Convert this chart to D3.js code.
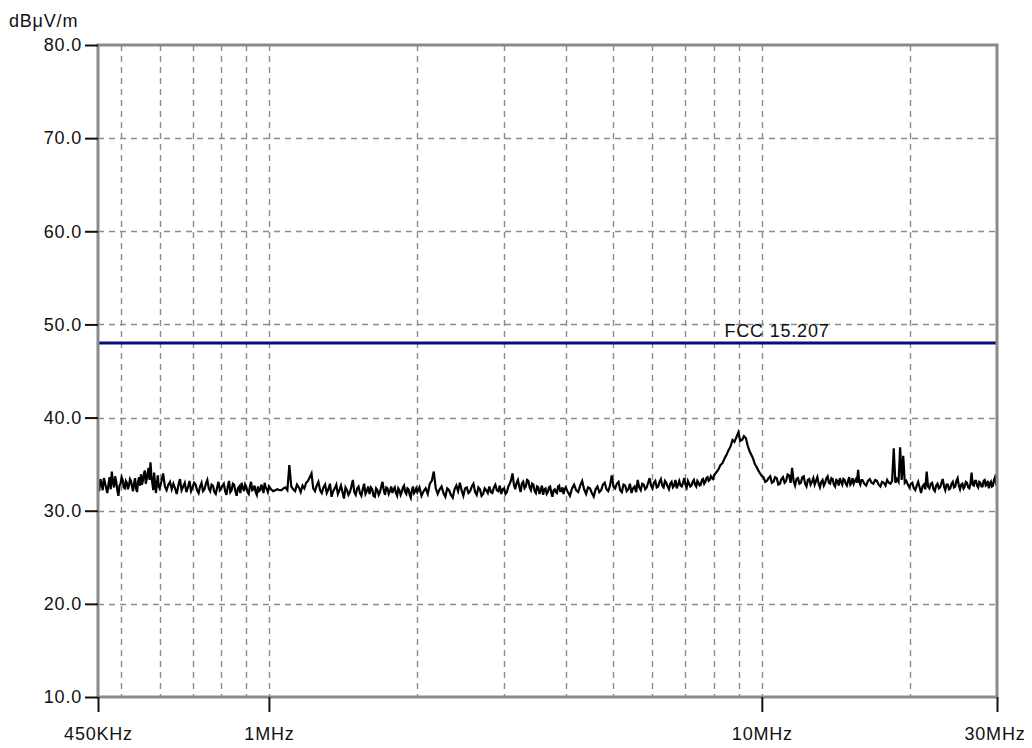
<!DOCTYPE html>
<html>
<head>
<meta charset="utf-8">
<script src="https://cdn.jsdelivr.net/npm/d3@7"></script>
<style>
  html, body { margin: 0; padding: 0; background: #fff; overflow: hidden; }
  svg text { font-family: "Liberation Sans", Arial, sans-serif; font-size: 18px; fill: #111; letter-spacing: 0.8px; }
</style>
</head>
<body>
<div id="chart"></div>
<script>
// axis values
const yTicks = [10, 20, 30, 40, 50, 60, 70, 80];
const yGrid = [20, 30, 40, 50, 60, 70];
const xTicksMHz = [0.45, 1, 10, 30];
const xTickLabels = ['450KHz', '1MHz', '10MHz', '30MHz'];
const xGridMHz = [0.5, 0.6, 0.7, 0.8, 0.9, 1, 2, 3, 4, 5, 6, 7, 8, 9, 10, 20];
const yUnit = 'dBμV/m';

// limit line
const limitName = 'FCC 15.207';
const limitDb = 48.0;
const limitLabelMHz = 8.4;

// measured sweep, split in segments (start freq, step, readings in dBμV/m)
const sweepA = { startMHz: 0.45, stepMHz: 0.0025, dB: [
  32.8, 32.1, 33.4, 32.9, 32.2, 33.5, 33.0, 32.4, 31.9, 32.8,
  33.6, 32.3, 34.2, 33.0, 32.5, 33.7, 33.1, 32.2, 31.6, 32.7,
  32.9, 33.6, 33.3, 32.5, 32.4, 33.2, 33.0, 32.3, 32.7, 33.4,
  33.2, 32.6, 32.1, 32.9, 33.5, 32.4, 32.0, 33.1, 33.6, 32.7,
  33.9, 32.8, 33.2, 34.0, 34.3, 32.9, 33.4, 34.1, 34.6, 33.3,
  35.2, 33.8, 33.0, 32.2, 34.1, 32.8, 31.9, 33.0, 33.8, 32.6] };
const sweepB = { startMHz: 0.60, stepMHz: 0.005, dB: [
  32.4, 33.1, 34.0, 32.6, 32.2, 32.8, 33.1, 32.3, 32.9, 32.4,
  31.8, 32.7, 33.4, 32.2, 32.6, 33.0, 32.0, 32.5, 33.2, 32.1,
  32.5, 33.0, 32.8, 32.2, 31.9, 32.6, 33.0, 32.1, 32.3, 32.9,
  33.3, 32.4, 32.1, 32.8, 32.7, 32.0, 31.8, 32.5, 33.1, 32.2,
  32.4, 32.7, 32.9, 32.1, 31.7, 32.6, 33.2, 32.0, 32.2, 32.9,
  32.8, 32.1, 31.6, 32.4, 32.6, 31.9, 33.0, 32.5, 32.1, 32.8,
  32.5, 32.0, 31.8, 32.6, 33.1, 32.2, 32.3, 32.7, 32.0, 31.7,
  32.6, 32.1, 32.2, 32.8, 32.4, 31.9, 33.0, 32.5, 32.3, 32.0] };
const sweepC = { startMHz: 1.00, stepMHz: 0.01, dB: [
  32.6, 32.3, 32.1, 32.2, 32.3, 32.2, 32.2, 32.4, 32.5, 32.2,
  34.9, 32.6, 32.3, 32.1, 32.8, 32.5, 32.0, 32.7, 32.4, 33.0,
  33.2, 33.6, 34.0, 32.4, 32.1, 32.7, 33.1, 32.2, 31.9, 32.5,
  32.8, 31.9, 32.3, 32.9, 31.5, 32.1, 32.4, 32.8, 31.8, 32.2,
  32.7, 32.0, 31.3, 32.5, 32.2, 31.7, 32.0, 32.6, 33.3, 32.0,
  31.7, 32.4, 32.6, 31.9, 31.6, 32.3, 32.9, 31.8, 32.1, 32.6,
  31.8, 32.5, 32.3, 31.6, 31.5, 32.4, 32.2, 31.7, 32.0, 32.6,
  33.1, 32.2, 31.7, 32.5, 32.4, 31.8, 32.1, 32.6, 31.9, 32.3,
  32.5, 31.9, 31.6, 32.4, 32.2, 31.7, 32.0, 32.5, 32.7, 32.0,
  31.8, 32.4, 32.3, 31.7, 31.4, 32.2, 32.6, 31.9, 32.1, 32.4] };
const sweepD = { startMHz: 2.00, stepMHz: 0.02, dB: [
  32.0, 32.5, 31.6, 32.1, 32.4, 31.8, 32.9, 33.2, 34.2, 32.4,
  31.8, 32.3, 32.6, 31.9, 31.5, 32.4, 32.2, 31.7, 31.4, 32.3,
  32.7, 32.1, 33.0, 32.2, 31.6, 32.4, 32.5, 31.9, 32.1, 32.6,
  32.9, 32.0, 31.7, 32.5, 32.3, 31.6, 31.8, 32.4, 32.2, 31.9,
  32.6, 32.0, 31.9, 32.5, 32.8, 32.2, 32.1, 32.7, 31.8, 32.3,
  32.4, 31.8, 32.0, 32.6, 32.9, 33.3, 34.0, 32.8, 32.3, 33.0,
  33.3, 32.6, 32.0, 32.9, 33.1, 32.4, 32.6, 33.3, 33.2, 32.5,
  32.2, 32.9, 32.8, 32.1, 31.9, 32.6, 32.5, 31.8, 32.2, 32.7,
  31.7, 32.3, 32.4, 31.8, 32.0, 32.5, 32.6, 31.9, 31.5, 32.2,
  32.3, 32.0, 31.9, 32.6, 32.7, 32.1, 32.1, 32.5, 31.8, 32.3] };
const sweepE = { startMHz: 4.00, stepMHz: 0.04, dB: [
  32.5, 32.0, 31.6, 32.4, 32.8, 32.2, 32.0, 32.7, 33.2, 32.3,
  31.8, 32.5, 32.4, 31.9, 31.5, 32.3, 32.6, 32.0, 32.2, 32.8,
  33.0, 32.3, 32.1, 32.7, 33.8, 32.6, 32.4, 32.9, 33.1, 32.2,
  32.0, 32.8, 32.7, 32.1, 32.3, 32.9, 31.9, 32.4, 32.6, 32.0,
  33.3, 32.5, 32.2, 32.9, 32.8, 32.3, 32.5, 33.0, 33.5, 32.7,
  32.4, 33.0, 33.2, 32.5, 32.6, 33.1, 33.4, 32.7, 32.5, 33.2,
  33.0, 32.6, 32.3, 32.9, 33.1, 32.5, 32.7, 33.3, 32.4, 32.8,
  33.2, 32.7, 32.6, 33.0, 33.5, 32.8, 32.5, 33.2, 32.9, 32.6,
  32.7, 33.1, 33.3, 32.8, 32.6, 33.2, 33.0, 32.7, 32.8, 33.3,
  33.4, 32.9, 33.1, 33.5, 33.6, 33.2, 33.3, 33.7, 33.5, 33.4] };
const sweepF = { startMHz: 8.00, stepMHz: 0.08, dB: [
  33.8, 34.1, 34.4, 34.9, 35.1, 35.6, 36.0, 36.5, 36.9, 37.6,
  37.4, 37.9, 38.4, 37.5, 37.6, 38.0, 37.8, 37.0, 36.4, 36.0,
  35.6, 35.0, 34.7, 34.3, 34.0, 33.7, 33.6, 33.1, 33.2, 33.5,
  33.7, 33.0, 33.1, 33.6, 33.5, 32.8, 32.9, 33.4, 33.6, 33.0,
  33.2, 33.9, 33.8, 33.0, 34.6, 33.2, 32.7, 33.4, 33.5, 32.9,
  33.0, 33.6, 33.7, 32.9, 32.6, 33.3, 33.4, 32.8, 33.1, 33.5,
  32.8, 33.2, 33.6, 32.9, 32.5, 33.1, 33.3, 32.7, 33.0, 33.5,
  33.7, 33.0, 32.9, 33.5, 33.4, 32.8, 32.6, 33.3, 33.2, 32.7,
  33.5, 33.1, 32.8, 33.4, 33.3, 32.9, 32.7, 33.2, 33.6, 32.8,
  33.0, 33.5, 32.9, 33.2, 33.4, 33.0, 34.4, 33.1, 32.8, 33.3] };
const sweepG = { startMHz: 16.00, stepMHz: 0.14, dB: [
  33.3, 32.9, 32.7, 33.2, 33.4, 33.0, 32.9, 33.3, 33.2, 32.8,
  32.6, 33.1, 33.0, 32.7, 33.3, 33.0, 32.9, 33.2, 36.7, 33.0,
  33.4, 33.1, 36.8, 33.3, 35.9, 33.0, 33.2, 32.8, 32.5, 32.9,
  33.0, 32.4, 32.2, 32.7, 33.1, 32.5, 31.9, 32.6, 32.8, 32.3,
  34.2, 32.6, 32.4, 32.9, 33.0, 32.3, 32.1, 32.7, 32.9, 32.4,
  32.5, 33.0, 33.4, 32.6, 32.2, 32.8, 32.8, 32.3, 32.4, 32.9,
  33.1, 32.5, 32.6, 33.2, 33.5, 32.7, 32.3, 32.8, 32.9, 32.4,
  32.6, 33.1, 33.0, 32.5, 32.4, 32.9, 34.1, 32.8, 32.7, 33.2,
  33.2, 32.7, 32.5, 33.1, 33.0, 32.6, 32.6, 33.2, 33.3, 32.7,
  32.8, 33.2, 32.4, 32.9, 33.1, 32.6, 32.7, 33.3, 33.6, 33.0] };
const sweepEnd = { startMHz: 30.00, stepMHz: 0, dB: [33.2] };

const sweeps = [sweepA, sweepB, sweepC, sweepD, sweepE, sweepF, sweepG, sweepEnd];

// Chart dimensions
const width = 1032;
const height = 748;
const margin = { top: 45, right: 35, bottom: 51, left: 98 };
const innerWidth = width - margin.left - margin.right;
const innerHeight = height - margin.top - margin.bottom;

const svg = d3.select('#chart')
  .append('svg')
  .attr('width', width)
  .attr('height', height)
  .style('display', 'block');

svg.append('rect')
  .attr('width', width)
  .attr('height', height)
  .attr('fill', '#fff');

const g = svg.append('g')
  .attr('transform', `translate(${margin.left}, ${margin.top})`);

const x = d3.scaleLog()
  .domain([xTicksMHz[0], xTicksMHz[xTicksMHz.length - 1]])
  .range([0, innerWidth]);

const y = d3.scaleLinear()
  .domain([yTicks[0], yTicks[yTicks.length - 1]])
  .range([innerHeight, 0]);

// Grid (dashed)
const grid = g.append('g').attr('class', 'grid')
  .attr('stroke', '#8c8c8c')
  .attr('stroke-width', 1.4)
  .attr('stroke-dasharray', '6,5');

grid.selectAll('.vgrid')
  .data(xGridMHz)
  .join('line')
  .attr('class', 'vgrid')
  .attr('x1', d => Math.round(x(d)) + 0.5)
  .attr('x2', d => Math.round(x(d)) + 0.5)
  .attr('y1', 0)
  .attr('y2', innerHeight);

grid.selectAll('.hgrid')
  .data(yGrid)
  .join('line')
  .attr('class', 'hgrid')
  .attr('x1', 0)
  .attr('x2', innerWidth)
  .attr('y1', d => Math.round(y(d)) + 0.5)
  .attr('y2', d => Math.round(y(d)) + 0.5);

// Limit line
g.append('line')
  .attr('x1', 0)
  .attr('x2', innerWidth)
  .attr('y1', y(limitDb))
  .attr('y2', y(limitDb))
  .attr('stroke', '#0a0a86')
  .attr('stroke-width', 3);

g.append('text')
  .attr('x', x(limitLabelMHz))
  .attr('y', y(limitDb) - 6)
  .text(limitName);

// Measured trace
const trace = [];
sweeps.forEach(s => {
  s.dB.forEach((v, i) => {
    trace.push({ f: +(s.startMHz + i * s.stepMHz).toFixed(4), v });
  });
});

const line = d3.line()
  .x(d => x(d.f))
  .y(d => y(d.v));

g.append('path')
  .datum(trace)
  .attr('fill', 'none')
  .attr('stroke', '#000')
  .attr('stroke-width', 2.2)
  .attr('d', line);

// Frame
g.append('rect')
  .attr('x', 0)
  .attr('y', 0)
  .attr('width', innerWidth)
  .attr('height', innerHeight)
  .attr('fill', 'none')
  .attr('stroke', '#8a8a8a')
  .attr('stroke-width', 3);

// Axes
const yAxis = d3.axisLeft(y)
  .tickValues(yTicks)
  .tickSize(13)
  .tickPadding(3)
  .tickFormat(d3.format('.1f'));

const yAxisGroup = g.append('g').attr('class', 'y-axis').call(yAxis);
yAxisGroup.select('.domain').remove();
yAxisGroup.selectAll('line').attr('stroke', '#111').attr('stroke-width', 2);
yAxisGroup.selectAll('text')
  .attr('fill', '#111')
  .style('font-size', '18px')
  .style('font-family', '"Liberation Sans", Arial, sans-serif');

const xAxis = d3.axisBottom(x)
  .tickValues(xTicksMHz)
  .tickSize(15)
  .tickFormat((d, i) => xTickLabels[i]);

const xAxisGroup = g.append('g')
  .attr('class', 'x-axis')
  .attr('transform', `translate(0, ${innerHeight})`)
  .call(xAxis);
xAxisGroup.select('.domain').remove();
xAxisGroup.selectAll('line').attr('stroke', '#111').attr('stroke-width', 2);
xAxisGroup.selectAll('text')
  .attr('fill', '#111')
  .attr('y', 43)
  .attr('dy', 0)
  .style('font-size', '18px')
  .style('font-family', '"Liberation Sans", Arial, sans-serif');
// last label sits against the right edge
xAxisGroup.selectAll('text')
  .filter((d, i) => i === xTicksMHz.length - 1)
  .attr('text-anchor', 'end')
  .attr('x', 28);

// Unit label
svg.append('text')
  .attr('x', 9)
  .attr('y', 27)
  .text(yUnit);
</script>
</body>
</html>
